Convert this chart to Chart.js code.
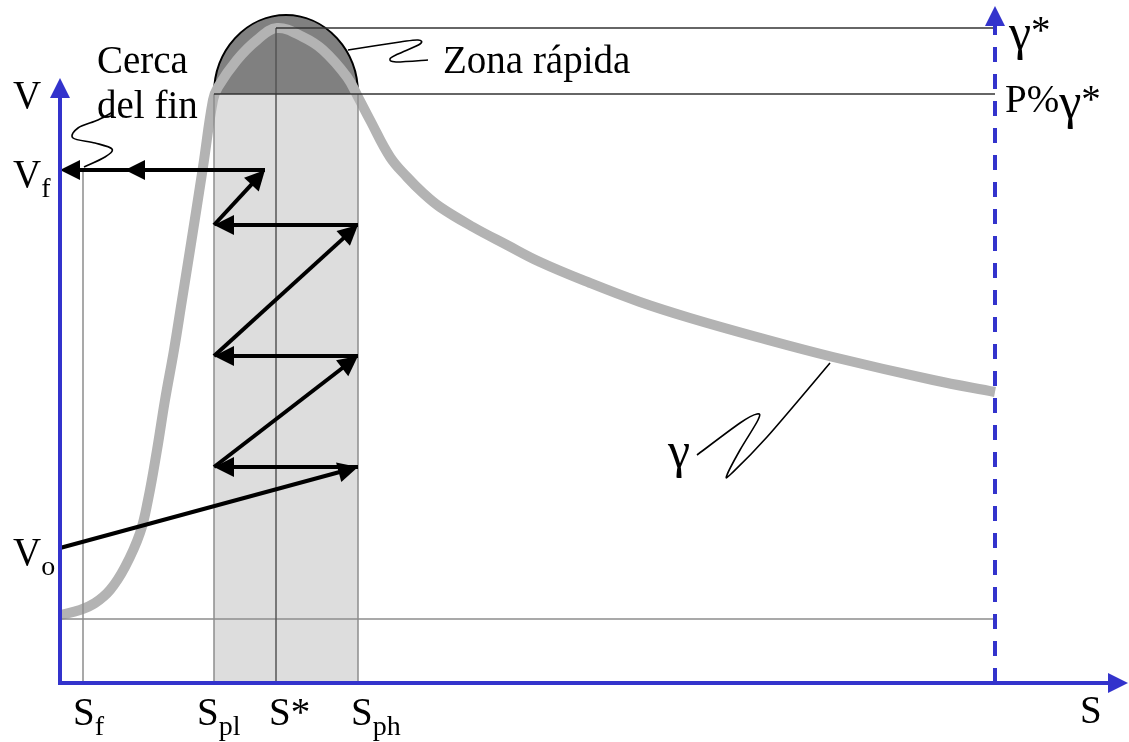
<!DOCTYPE html>
<html>
<head>
<meta charset="utf-8">
<script src="https://cdn.jsdelivr.net/npm/chart.js@4/dist/chart.umd.min.js"></script>
<style>
  html, body { margin: 0; padding: 0; background: #ffffff; }
  #wrap { width: 1129px; height: 742px; }
</style>
</head>
<body>
<div id="wrap"><canvas id="c" width="1129" height="742"></canvas></div>
<script>
// Sensitivity curve gamma(S): position along S and gain value
const curveS     = [0, 20, 35, 50, 65, 80, 88, 97, 105, 114, 122, 130, 143, 153, 158, 177, 197, 217, 243, 263, 287, 298, 310, 330, 347, 363, 380, 413, 447, 480, 530, 580, 630, 697, 773, 873, 935];
const curveGamma = [68, 73, 80, 93, 116, 150, 183, 233, 283, 333, 383, 433, 516, 583, 596, 623, 643, 655, 646, 633, 606, 586, 563, 526, 506, 490, 476, 456, 438, 421, 400, 381, 365, 346, 326, 303, 291];

// Marks on the S axis
const sMarks = { Sf: 23, Spl: 154, Sstar: 216, Sph: 298, Send: 935 };
// Levels on the V / gamma axis
const vLevels = { Vo: 135, Vf: 513, gammaStar: 655, gammaP: 589, gammaMin: 64 };

// Iteration path (S, V) for the search; every segment ends in an arrow
const pathS = [0, 298, 154, 298, 154, 298, 154, 205, 0];
const pathV = [135, 216, 216, 327, 327, 458, 458, 513, 513];
const midArrowS = 65;   // extra arrowhead along the final return segment

// Leader squiggles for the annotations (S, V)
const leadCercaS = [24, 45, 52, 35, 13, 18, 38, 53];
const leadCercaV = [516, 526, 534, 540, 545, 555, 563, 571];
const leadZonaS  = [288, 340, 358, 360, 338, 330, 336, 368];
const leadZonaV  = [633, 641, 643, 639, 629, 624, 621, 623];
const leadGammaS = [770, 707, 672, 667, 680, 698, 697, 680, 637];
const leadGammaV = [320, 246, 210, 208, 233, 263, 269, 260, 228];

const BLUE = '#3333CC';
const SERIF = '"Liberation Serif", "DejaVu Serif", serif';

function catmull(ctx, pts) {
  ctx.moveTo(pts[0][0], pts[0][1]);
  for (let i = 0; i < pts.length - 1; i++) {
    const p0 = pts[Math.max(0, i - 1)], p1 = pts[i], p2 = pts[i + 1], p3 = pts[Math.min(pts.length - 1, i + 2)];
    const c1x = p1[0] + (p2[0] - p0[0]) / 6, c1y = p1[1] + (p2[1] - p0[1]) / 6;
    const c2x = p2[0] - (p3[0] - p1[0]) / 6, c2y = p2[1] - (p3[1] - p1[1]) / 6;
    ctx.bezierCurveTo(c1x, c1y, c2x, c2y, p2[0], p2[1]);
  }
}

function arrowHead(ctx, tx, ty, dx, dy, len, half) {
  const l = Math.hypot(dx, dy); const ux = dx / l, uy = dy / l;
  ctx.beginPath();
  ctx.moveTo(tx, ty);
  ctx.lineTo(tx - ux * len - uy * half, ty - uy * len + ux * half);
  ctx.lineTo(tx - ux * len + uy * half, ty - uy * len - ux * half);
  ctx.closePath();
  ctx.fill();
}

function arrow(ctx, x1, y1, x2, y2, len, half) {
  const dx = x2 - x1, dy = y2 - y1, l = Math.hypot(dx, dy);
  ctx.beginPath();
  ctx.moveTo(x1, y1);
  ctx.lineTo(x2 - dx / l * (len - 2), y2 - dy / l * (len - 2));
  ctx.stroke();
  arrowHead(ctx, x2, y2, dx, dy, len, half);
}

function subText(ctx, main, sub, x, y) {
  ctx.font = '39px ' + SERIF;
  ctx.fillText(main, x, y);
  const w = ctx.measureText(main).width;
  ctx.font = '28px ' + SERIF;
  ctx.fillText(sub, x + w, y + 10);
}

// gamma glyph drawn a size up so it matches the Symbol-style letter
function gammaText(ctx, txt, x, y) {
  ctx.font = '39px ' + SERIF;
  let cx = x;
  for (const ch of txt) {
    if (ch === 'γ') {
      ctx.font = '50px ' + SERIF;
      ctx.fillText(ch, cx, y + 6);
      cx += ctx.measureText(ch).width;
      ctx.font = '39px ' + SERIF;
    } else {
      ctx.fillText(ch, cx, y);
      cx += ctx.measureText(ch).width;
    }
  }
}

const diagram = {
  id: 'diagram',
  beforeDatasetsDraw(chart) {
    const ctx = chart.ctx, xs = chart.scales.x, ys = chart.scales.y;
    const X = v => xs.getPixelForValue(v), Y = v => ys.getPixelForValue(v);
    ctx.save();
    // fast-zone band
    ctx.fillStyle = '#DDDDDD';
    ctx.fillRect(X(sMarks.Spl), Y(vLevels.gammaP), X(sMarks.Sph) - X(sMarks.Spl), Y(0) - Y(vLevels.gammaP));
    // cap of the band above P% gamma*
    const cx = (X(sMarks.Spl) + X(sMarks.Sph)) / 2, cy = Y(vLevels.gammaP);
    const rx = (X(sMarks.Sph) - X(sMarks.Spl)) / 2, ry = cy - Y(vLevels.gammaStar + 13);
    ctx.beginPath();
    ctx.ellipse(cx, cy, rx, ry, 0, Math.PI, 2 * Math.PI);
    ctx.closePath();
    ctx.fillStyle = '#808080';
    ctx.fill();
    ctx.beginPath();
    ctx.ellipse(cx, cy, rx, ry, 0, Math.PI, 2 * Math.PI);
    ctx.strokeStyle = '#000000';
    ctx.lineWidth = 2;
    ctx.stroke();
    ctx.restore();
  },
  afterDatasetsDraw(chart) {
    const ctx = chart.ctx, xs = chart.scales.x, ys = chart.scales.y;
    const X = v => xs.getPixelForValue(v), Y = v => ys.getPixelForValue(v);
    ctx.save();
    ctx.lineCap = 'butt';

    // thin guide lines
    const line = (x1, y1, x2, y2, col, w) => {
      ctx.beginPath(); ctx.moveTo(x1, y1); ctx.lineTo(x2, y2);
      ctx.strokeStyle = col; ctx.lineWidth = w; ctx.stroke();
    };
    line(X(0), Y(vLevels.gammaMin), X(sMarks.Send), Y(vLevels.gammaMin), '#8C8C8C', 1.5);
    line(X(sMarks.Sf), Y(0), X(sMarks.Sf), Y(vLevels.Vf), '#8C8C8C', 1.5);
    line(X(sMarks.Spl), Y(0), X(sMarks.Spl), Y(vLevels.gammaP), '#8C8C8C', 1.5);
    line(X(sMarks.Sph), Y(0), X(sMarks.Sph), Y(vLevels.gammaP), '#8C8C8C', 1.5);
    line(X(sMarks.Sstar), Y(0), X(sMarks.Sstar), Y(vLevels.gammaStar), '#555555', 1.5);
    line(X(sMarks.Sstar), Y(vLevels.gammaStar), X(sMarks.Send), Y(vLevels.gammaStar), '#333333', 1.5);
    line(X(sMarks.Spl), Y(vLevels.gammaP), X(sMarks.Send), Y(vLevels.gammaP), '#333333', 1.5);

    // leader squiggles
    ctx.strokeStyle = '#000000';
    ctx.lineWidth = 1.6;
    [[leadCercaS, leadCercaV], [leadZonaS, leadZonaV], [leadGammaS, leadGammaV]].forEach(([sa, va]) => {
      ctx.beginPath();
      catmull(ctx, sa.map((s, i) => [X(s), Y(va[i])]));
      ctx.stroke();
    });

    // iteration arrows
    ctx.strokeStyle = '#000000';
    ctx.fillStyle = '#000000';
    ctx.lineWidth = 4;
    for (let i = 0; i < pathS.length - 1; i++) {
      arrow(ctx, X(pathS[i]), Y(pathV[i]), X(pathS[i + 1]), Y(pathV[i + 1]), 20, 10);
    }
    const last = pathS.length - 1;
    arrowHead(ctx, X(midArrowS), Y(pathV[last]), X(pathS[last]) - X(pathS[last - 1]), 0, 20, 10);

    // axes
    ctx.strokeStyle = BLUE; ctx.fillStyle = BLUE; ctx.lineWidth = 4;
    arrow(ctx, X(0), Y(0) + 2, X(0), Y(605), 20, 10);
    arrow(ctx, X(0) - 2, Y(0), X(1068), Y(0), 20, 10);
    ctx.setLineDash([15, 12]);
    ctx.beginPath(); ctx.moveTo(X(sMarks.Send), Y(0)); ctx.lineTo(X(sMarks.Send), Y(677) + 18); ctx.stroke();
    ctx.setLineDash([]);
    arrowHead(ctx, X(sMarks.Send), Y(677), 0, -1, 20, 10);

    // labels
    ctx.fillStyle = '#000000';
    ctx.textAlign = 'left';
    ctx.textBaseline = 'alphabetic';
    ctx.font = '39px ' + SERIF;
    ctx.fillText('V', X(0) - 47, Y(605) + 30);
    subText(ctx, 'V', 'f', X(0) - 47, Y(vLevels.Vf) + 17);
    subText(ctx, 'V', 'o', X(0) - 47, Y(vLevels.Vo) + 17);
    const base = Y(0) + 42;
    subText(ctx, 'S', 'f', X(sMarks.Sf) - 10, base);
    subText(ctx, 'S', 'pl', X(sMarks.Spl) - 17, base);
    ctx.font = '39px ' + SERIF;
    ctx.fillText('S*', X(sMarks.Sstar) - 7, base);
    subText(ctx, 'S', 'ph', X(sMarks.Sph) - 7, base);
    ctx.font = '39px ' + SERIF;
    ctx.fillText('S', X(1020), Y(0) + 40);
    ctx.fillText('Cerca', X(37), 73);
    ctx.fillText('del fin', X(37), 118);
    ctx.fillText('Zona rápida', X(383), 73);
    gammaText(ctx, 'γ*', X(sMarks.Send) + 14, Y(vLevels.gammaStar) + 15);
    gammaText(ctx, 'P%γ*', X(sMarks.Send) + 10, Y(vLevels.gammaP) + 18);
    gammaText(ctx, 'γ', X(608), Y(leadGammaV[8]) + 6);
    ctx.restore();
  }
};

new Chart(document.getElementById('c'), {
  type: 'scatter',
  data: {
    datasets: [{
      data: curveS.map((s, i) => ({ x: s, y: curveGamma[i] })),
      showLine: true,
      borderColor: '#B3B3B3',
      borderWidth: 10,
      pointRadius: 0,
      tension: 0.4,
      borderJoinStyle: 'round',
      fill: false
    }]
  },
  options: {
    responsive: false,
    animation: false,
    devicePixelRatio: 1,
    layout: { padding: 0 },
    scales: {
      x: { type: 'linear', min: -60, max: 1069, display: false },
      y: { type: 'linear', min: -59, max: 683, display: false }
    },
    plugins: { legend: { display: false }, tooltip: { enabled: false } }
  },
  plugins: [diagram]
});
</script>
</body>
</html>
